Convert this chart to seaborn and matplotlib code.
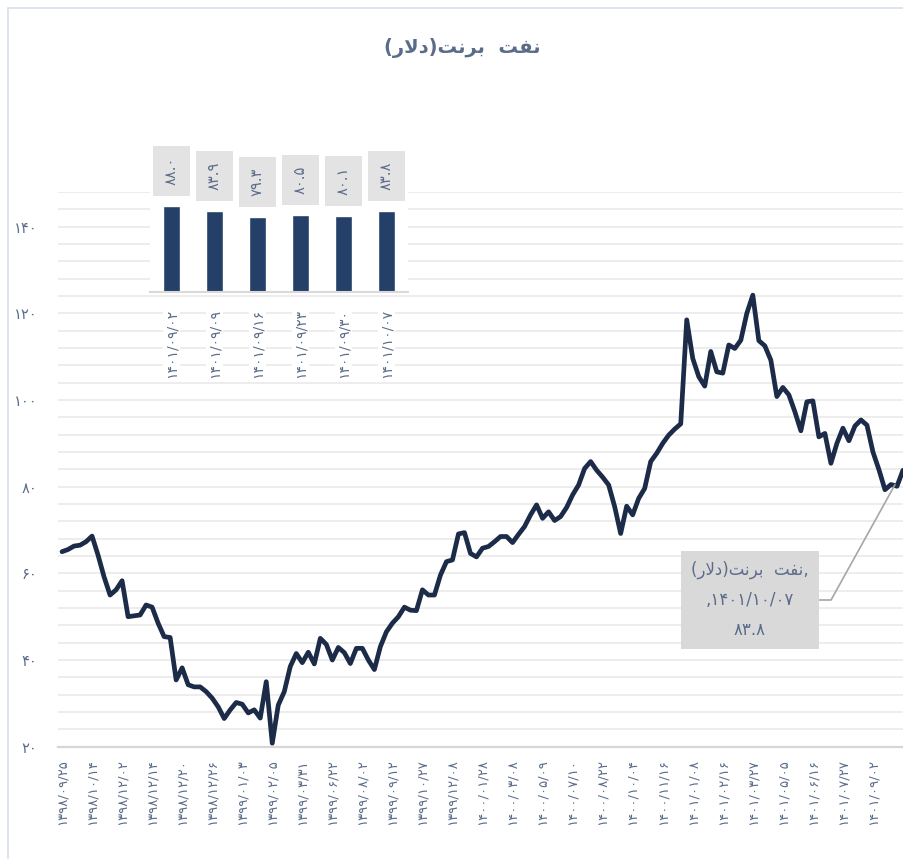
import matplotlib
matplotlib.use("Agg")
import numpy as np
import pandas as pd
import matplotlib.pyplot as plt
import seaborn as sns
from matplotlib.ticker import MultipleLocator

# --
# Data

brent = [
    65.0, 65.5, 66.3, 66.5, 67.3, 68.6, 64.2, 59.2, 55.0, 56.2,
    58.3, 50.0, 50.2, 50.4, 52.7, 52.2, 48.5, 45.4, 45.2, 35.4,
    38.2, 34.3, 33.8, 33.8, 32.7, 31.2, 29.2, 26.5, 28.5, 30.2,
    29.8, 27.8, 28.5, 26.6, 35.0, 20.8, 29.6, 32.7, 38.5, 41.5,
    39.4, 41.8, 39.1, 45.0, 43.6, 40.0, 42.9, 41.7, 39.2, 42.7,
    42.7, 40.0, 37.8, 43.1, 46.5, 48.5, 50.0, 52.2, 51.5, 51.4,
    56.2, 55.0, 55.0, 59.6, 62.7, 63.1, 69.1, 69.4, 64.6, 63.8,
    65.8, 66.2, 67.3, 68.5, 68.5, 67.1, 69.0, 70.8, 73.5, 75.8,
    72.7, 74.2, 72.2, 73.1, 75.2, 78.1, 80.4, 84.2, 85.8, 83.8,
    82.2, 80.4, 75.4, 69.2, 75.5, 73.5, 77.3, 79.6, 85.8, 87.7,
    90.0, 91.9, 93.3, 94.5, 118.5, 109.6, 105.4, 103.2, 111.2, 106.5,
    106.2, 112.7, 111.9, 113.8, 120.0, 124.2, 113.7, 112.5, 109.2, 100.8,
    102.9, 101.2, 97.3, 92.9, 99.6, 99.8, 91.5, 92.3, 85.4, 90.0,
    93.5, 90.6, 94.0, 95.4, 94.2, 88.0, 83.9, 79.3, 80.5, 80.1,
    83.8,
]

tick_dates = [
    "1398/09/25", "1398/10/14", "1398/12/02", "1398/12/14", "1398/12/20",
    "1398/12/26", "1399/01/03", "1399/02/05", "1399/03/31", "1399/06/22",
    "1399/08/02", "1399/09/12", "1399/10/27", "1399/12/08", "1400/01/28",
    "1400/03/08", "1400/05/09", "1400/07/10", "1400/08/22", "1400/10/04",
    "1400/11/16", "1401/01/08", "1401/02/16", "1401/03/27", "1401/05/05",
    "1401/06/16", "1401/07/27", "1401/09/02",
]

week_dates = ["1401/09/02", "1401/09/09", "1401/09/16",
              "1401/09/23", "1401/09/30", "1401/10/07"]
week_values = [88.0, 83.9, 79.3, 80.5, 80.1, 83.8]

title_fa = "نفت  برنت(دلار)"

# --
# Helpers: persian digits + minimal arabic shaping (mpl has no bidi)

FA_DIGITS = str.maketrans("0123456789", "۰۱۲۳۴۵۶۷۸۹")

def fa(s):
    return s.translate(FA_DIGITS)

def fa_num(v):
    return fa("%.1f" % v)

FORMS = {  # isolated, final, initial, medial
    "ا": ("\uFE8D", "\uFE8E", None, None),
    "ب": ("\uFE8F", "\uFE90", "\uFE91", "\uFE92"),
    "ت": ("\uFE95", "\uFE96", "\uFE97", "\uFE98"),
    "د": ("\uFEA9", "\uFEAA", None, None),
    "ر": ("\uFEAD", "\uFEAE", None, None),
    "ف": ("\uFED1", "\uFED2", "\uFED3", "\uFED4"),
    "ل": ("\uFEDD", "\uFEDE", "\uFEDF", "\uFEE0"),
    "ن": ("\uFEE5", "\uFEE6", "\uFEE7", "\uFEE8"),
}

def joins_next(c):
    return c in FORMS and FORMS[c][2] is not None

def shape(s):
    out = []
    i = 0
    while i < len(s):
        c = s[i]
        if c not in FORMS:
            out.append(c)
            i += 1
            continue
        prev = s[i - 1] if i > 0 else ""
        con_prev = joins_next(prev)
        if c == "ل" and i + 1 < len(s) and s[i + 1] == "ا":
            out.append("\uFEFC" if con_prev else "\uFEFB")
            i += 2
            continue
        nxt = s[i + 1] if i + 1 < len(s) else ""
        con_next = joins_next(c) and nxt in FORMS
        iso, fin, ini, med = FORMS[c]
        if con_prev and con_next:
            out.append(med)
        elif con_prev:
            out.append(fin)
        elif con_next:
            out.append(ini)
        else:
            out.append(iso)
        i += 1
    return "".join(reversed(out)).translate(str.maketrans("()", ")("))

# --
# Plot

sns.set_theme(style="white")
plt.rcParams["font.family"] = ["DejaVu Sans"]

text_col = "#5b6c8a"
line_col = "#1b2b48"
bar_col = "#243f68"
grid_col = "#ececec"

W, H = 904, 859
fig = plt.figure(figsize=(W / 100, H / 100), dpi=100)
fx = lambda px: px / W
fy = lambda py: 1 - py / H

# outer chart border
fig.add_artist(plt.Rectangle((fx(8), -0.01), 1.0, fy(8) + 0.01, transform=fig.transFigure,
                             fill=False, ec="#d7dfea", lw=1.2))

ax = fig.add_axes([fx(58), fy(746.7), fx(906) - fx(58), fy(192) - fy(746.7)])
df = pd.DataFrame({"i": np.arange(len(brent)), "brent": brent})
sns.lineplot(data=df, x="i", y="brent", ax=ax, color=line_col, lw=3.4,
             solid_joinstyle="round", solid_capstyle="round")
ax.set_xlim(-0.667, 140.5)
ax.set_ylim(20, 148)
ax.yaxis.set_major_locator(MultipleLocator(20))
ax.yaxis.set_minor_locator(MultipleLocator(4))
ax.grid(axis="y", which="both", color=grid_col, lw=1.3)
ax.set_axisbelow(True)
for s in ["left", "right", "top"]:
    ax.spines[s].set_visible(False)
ax.spines["bottom"].set_color("#d6d6d6")
ax.spines["bottom"].set_linewidth(1.6)

ax.set_xticks(range(0, 5 * len(tick_dates), 5))
ax.set_xticklabels([fa(d) for d in tick_dates], rotation=90)
yt = list(range(20, 141, 20))
ax.set_yticks(yt)
ax.set_yticklabels([fa(str(v)) for v in yt])
ax.tick_params(axis="x", length=0, pad=9, labelsize=9.5, labelcolor=text_col)
ax.tick_params(axis="y", which="both", length=0, pad=15, labelsize=10.5, labelcolor=text_col)
ax.set_xlabel("")
ax.set_ylabel("")

# callout for last point
label_txt = shape("نفت  برنت(دلار)") + ",\n," + fa(week_dates[-1]) + "\n" + fa_num(brent[-1])
ax.annotate(label_txt, xy=(len(brent) - 1, brent[-1]), xycoords="data",
            xytext=(fx(750), fy(600)), textcoords="figure fraction",
            ha="center", va="center", fontsize=12, color=text_col, linespacing=1.85,
            bbox=dict(boxstyle="square,pad=0.6", fc="#d9d9d9", ec="none"),
            arrowprops=dict(arrowstyle="-", color="#a6a6a6", lw=1.2, shrinkA=0, shrinkB=12,
                            connectionstyle="angle,angleA=0,angleB=61,rad=0"),
            annotation_clip=False)

# title
fig.text(fx(462), fy(48), shape(title_fa), ha="center", va="center",
         fontsize=14, fontweight="bold", color=text_col)

# --
# Inset: last 6 weeks

axi = fig.add_axes([fx(150), fy(292), fx(408) - fx(150), fy(150) - fy(292)])
axi.set_facecolor("white")
bdf = pd.DataFrame({"date": [fa(d) for d in week_dates], "value": week_values})
sns.barplot(data=bdf, x="date", y="value", ax=axi, color=bar_col, width=0.4, saturation=1)
axi.set_ylim(20, 132)
axi.set_xlim(-0.5, len(week_values) - 0.5)
axi.set_yticks([])
axi.set_xlabel("")
axi.set_ylabel("")
for s in ["left", "right", "top"]:
    axi.spines[s].set_visible(False)
axi.spines["bottom"].set_color("#d9d9d9")
axi.spines["bottom"].set_linewidth(1.5)
axi.tick_params(axis="x", length=0, pad=12, labelsize=10, labelcolor=text_col, rotation=90)
for lab in axi.get_xticklabels():
    lab.set_bbox(dict(fc="white", ec="none", pad=1))

for k, v in enumerate(week_values):
    axi.annotate(fa_num(v), xy=(k, v), xytext=(0, 15), textcoords="offset points",
                 ha="center", va="bottom", rotation=90, fontsize=10.5, color=text_col,
                 bbox=dict(boxstyle="square,pad=0.75", fc="#e3e3e3", ec="none"),
                 annotation_clip=False)

fig.savefig("out.png", dpi=100)
